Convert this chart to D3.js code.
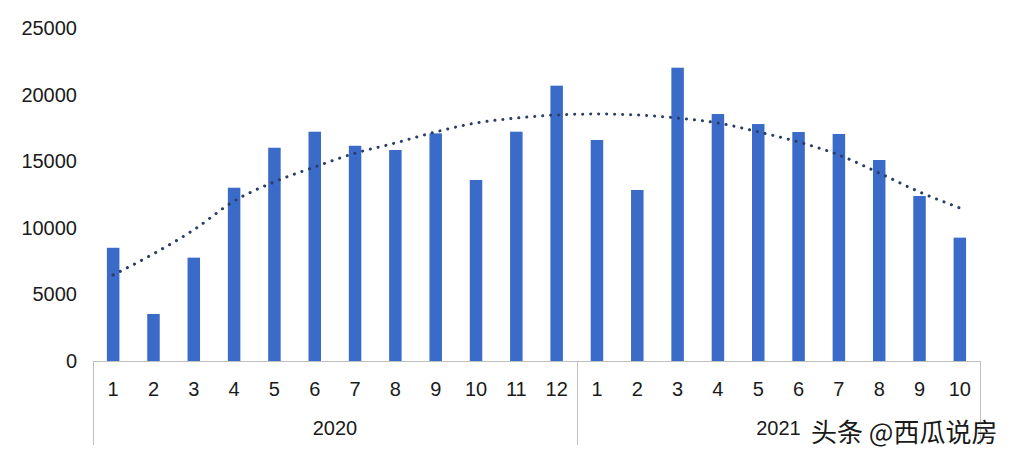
<!DOCTYPE html>
<html>
<head>
<meta charset="utf-8">
<script src="https://cdn.jsdelivr.net/npm/d3@7/dist/d3.min.js"></script>
<style>
  html, body { margin: 0; padding: 0; background: #ffffff; }
  svg { display: block; }
  text { font-family: "Liberation Sans", Arial, sans-serif; fill: #1a1a1a; }
</style>
</head>
<body>
<svg id="chart" width="1010" height="460"></svg>
<script>
const years = ["2020", "2021"];
const months2020 = ["1","2","3","4","5","6","7","8","9","10","11","12"];
const months2021 = ["1","2","3","4","5","6","7","8","9","10"];
const values2020 = [8500, 3530, 7760, 13010, 16010, 17215, 16160, 15840, 17090, 13590, 17215, 20670];
const values2021 = [16590, 12840, 22020, 18540, 17790, 17190, 17040, 15090, 12390, 9260];
const trendValues = [6460, 8050, 9850, 12010, 13450, 14570, 15600, 16370, 17200, 17870, 18240, 18470,
                     18540, 18470, 18240, 17870, 17200, 16440, 15470, 14110, 12690, 11490];
const yTicks = [0, 5000, 10000, 15000, 20000, 25000];
const watermark = "头条 @西瓜说房";

const data = [];
months2020.forEach((m, i) => data.push({ key: "2020-" + m, month: m, year: "2020", value: values2020[i] }));
months2021.forEach((m, i) => data.push({ key: "2021-" + m, month: m, year: "2021", value: values2021[i] }));
data.forEach((d, i) => d.trend = trendValues[i]);

const svg = d3.select("#chart");
const mLeft = 93, mRight = 980, mTop = 28, mBottom = 361;

const x = d3.scaleBand().domain(data.map(d => d.key)).range([mLeft, mRight]).paddingInner(0.69).paddingOuter(0.345);
const y = d3.scaleLinear().domain([0, 25000]).range([mBottom, mTop]);

// Y axis labels (no line, no ticks)
const yAxis = d3.axisLeft(y).tickValues(yTicks).tickSize(0).tickPadding(0).tickFormat(d3.format("d"));
const yg = svg.append("g").attr("transform", "translate(77,0)").call(yAxis);
yg.select(".domain").remove();
yg.selectAll("text").style("font-size", "20px").attr("fill", "#1a1a1a").style("font-family", "Liberation Sans, Arial, sans-serif");

// Bars
svg.append("g").selectAll("rect").data(data).join("rect")
  .attr("x", d => x(d.key))
  .attr("y", d => y(d.value))
  .attr("width", x.bandwidth())
  .attr("height", d => y(0) - y(d.value))
  .attr("fill", "#3A6BC9");

// Trend line (dotted)
const line = d3.line()
  .x(d => x(d.key) + x.bandwidth() / 2)
  .y(d => y(d.trend))
  .curve(d3.curveMonotoneX);
svg.append("path").datum(data)
  .attr("d", line)
  .attr("fill", "none")
  .attr("stroke", "#2B3D66")
  .attr("stroke-width", 3)
  .attr("stroke-linecap", "round")
  .attr("stroke-dasharray", "0.1 7.9");

// X axis: baseline and category frame
const axisColor = "#bfbfbf";
svg.append("line").attr("x1", mLeft).attr("x2", mRight).attr("y1", mBottom + 0.5).attr("y2", mBottom + 0.5)
  .attr("stroke", axisColor).attr("stroke-width", 1);

const xAxis = d3.axisBottom(x).tickSize(0).tickPadding(0).tickFormat(k => data.find(d => d.key === k).month);
const xg = svg.append("g").attr("transform", `translate(0,${mBottom + 21})`).call(xAxis);
xg.select(".domain").remove();
xg.selectAll("text").style("font-size", "20px").attr("fill", "#1a1a1a").attr("dy", "0.71em")
  .style("font-family", "Liberation Sans, Arial, sans-serif");

// Year group separators and labels
const step = x.step();
const lastOf2020 = data.filter(d => d.year === "2020").slice(-1)[0];
const sepX = x(lastOf2020.key) + x.bandwidth() / 2 + step / 2;
const groupBounds = [
  { yr: years[0], start: mLeft, end: sepX },
  { yr: years[1], start: sepX, end: mRight }
];
const seps = [mLeft, sepX, mRight];
svg.append("g").selectAll("line").data(seps).join("line")
  .attr("x1", d => Math.round(d) + 0.5).attr("x2", d => Math.round(d) + 0.5)
  .attr("y1", mBottom).attr("y2", 445)
  .attr("stroke", axisColor).attr("stroke-width", 1);

svg.append("g").selectAll("text").data(groupBounds).join("text")
  .attr("x", d => (d.start + d.end) / 2)
  .attr("y", 435)
  .attr("text-anchor", "middle")
  .style("font-size", "20px")
  .text(d => d.yr);

// Watermark
svg.append("text")
  .attr("x", 811).attr("y", 442)
  .style("font-family", "Noto Sans CJK SC, sans-serif")
  .style("font-size", "26px")
  .attr("fill", "#222")
  .attr("stroke", "#ffffff").attr("stroke-width", 0.8).attr("paint-order", "stroke")
  .text(watermark);
</script>
</body>
</html>
